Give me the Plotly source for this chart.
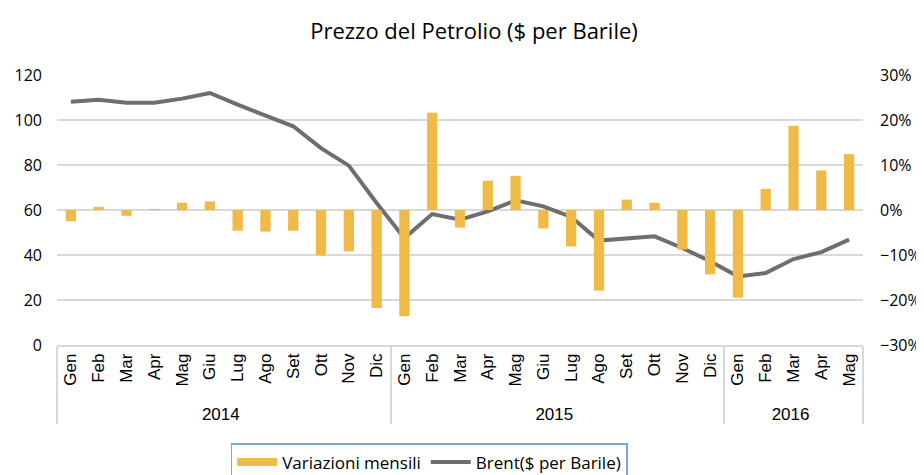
import plotly.graph_objects as go

years = ["2014"] * 12 + ["2015"] * 12 + ["2016"] * 5
months = ["Gen", "Feb", "Mar", "Apr", "Mag", "Giu", "Lug", "Ago", "Set", "Ott", "Nov", "Dic"] * 2 + \
         ["Gen", "Feb", "Mar", "Apr", "Mag"]

brent = [108.1, 109.0, 107.7, 107.7, 109.5, 112.0, 106.8, 101.9, 97.2, 87.5, 79.7, 63.1,
         47.5, 58.2, 55.7, 59.4, 64.3, 61.6, 56.9, 46.4, 47.5, 48.3, 43.1, 37.2,
         30.5, 32.0, 38.2, 41.3, 46.8]

variazioni = [-2.5, 0.7, -1.3, 0.2, 1.6, 1.9, -4.6, -4.8, -4.6, -10.1, -9.2, -21.8,
              -23.6, 21.6, -3.9, 6.5, 7.6, -4.1, -8.1, -17.9, 2.3, 1.6, -8.8, -14.3,
              -19.5, 4.7, 18.7, 8.8, 12.4]
variazioni_frac = [v / 100 for v in variazioni]

left_ticks = [0, 20, 40, 60, 80, 100, 120]
right_ticks = [-0.3, -0.2, -0.1, 0, 0.1, 0.2, 0.3]

FONT = "Open Sans"
BAR_COLOR = "#EFBA45"
LINE_COLOR = "#6E6E6E"

# page body has an 8px offset, so the figure is sized to 916x467
W, H = 916, 467

fig = go.Figure()
fig.add_trace(go.Bar(
    x=[years, months], y=variazioni_frac, name="Variazioni mensili",
    marker=dict(color=BAR_COLOR, line=dict(width=0)), yaxis="y2", width=0.37,
    showlegend=False,
))
# legend proxy for the bars (wide flat swatch like the original)
fig.add_trace(go.Scatter(
    x=[[years[0]], [months[0]]], y=[None], name="Variazioni mensili", mode="lines",
    line=dict(color=BAR_COLOR, width=8), yaxis="y2", showlegend=True,
))
fig.add_trace(go.Scatter(
    x=[years, months], y=brent, name="Brent($ per Barile)", mode="lines",
    line=dict(color=LINE_COLOR, width=4), yaxis="y",
))

fig.update_layout(
    width=W, height=H,
    margin=dict(l=49, r=61, t=67, b=130, autoexpand=False),
    paper_bgcolor="white", plot_bgcolor="white",
    font=dict(family=FONT, color="#404040", size=14),
    title=dict(text="Prezzo del Petrolio ($ per Barile)", x=(474 - 8) / W, xanchor="center",
               y=1 - 23 / H, yanchor="middle", font=dict(size=22, color="#000000", family=FONT)),
    bargap=0.63,
    showlegend=True,
    legend=dict(orientation="h", x=(431 - 8) / W, xanchor="center", y=-(435 - 337) / 270, yanchor="top",
                bordercolor="#7AA7DA", borderwidth=1.5,
                font=dict(size=17, color="#000000", family=FONT),
                traceorder="normal", itemwidth=40),
    xaxis=dict(type="multicategory", tickangle=-90, showgrid=False, showline=True,
               linecolor="#D9D9D9", linewidth=1.5, ticks="", showdividers=True,
               dividercolor="#D9D9D9", dividerwidth=1.5,
               tickfont=dict(size=17, color="#000000", family="Liberation Sans"),
               automargin=False),
    yaxis=dict(range=[0, 120], tickvals=left_ticks, showgrid=True, gridcolor="#D9D9D9",
               gridwidth=1.5, zeroline=False, showline=False, ticks="",
               tickfont=dict(size=16, color="#000000"), ticklabelstandoff=14,
               automargin=False),
    yaxis2=dict(range=[-0.3, 0.3], tickvals=right_ticks, tickformat=".0%", overlaying="y",
                side="right", showgrid=False, zeroline=False, showline=False, ticks="",
                tickfont=dict(size=16, color="#000000"), ticklabelstandoff=16,
                automargin=False),
)

fig.write_html("out.html")
